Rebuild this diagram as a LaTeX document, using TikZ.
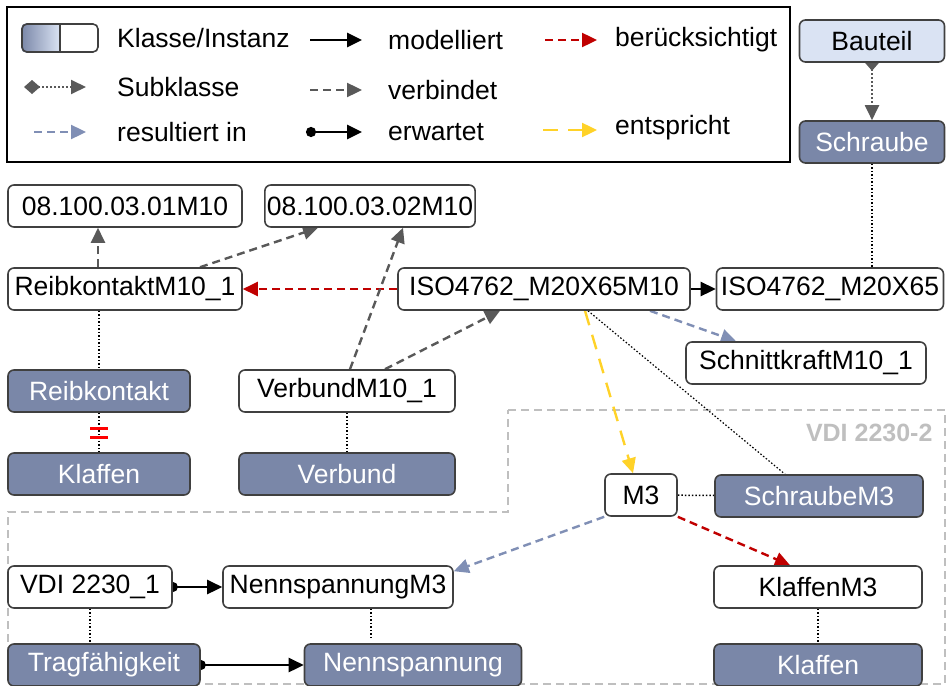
\documentclass[tikz,border=0pt]{standalone}
\usepackage{fontspec}
\setmainfont{Liberation Sans}
\usepackage{tikz}
\usepackage{xcolor}
\usetikzlibrary{arrows.meta, positioning, calc, backgrounds}
\definecolor{cClass}{RGB}{122,135,168}
\definecolor{cLight}{RGB}{218,227,243}
\definecolor{cBorder}{RGB}{64,64,64}
\definecolor{cGrayArr}{RGB}{89,89,89}
\definecolor{cResult}{RGB}{128,143,181}
\definecolor{cRed}{RGB}{192,0,0}
\definecolor{cYellow}{RGB}{255,210,40}
\definecolor{cRegion}{RGB}{191,191,191}
\tikzset{
	inst/.style   ={rectangle, rounded corners=6pt, draw=cBorder, line width=1.6pt, fill=white, minimum height=42pt, inner sep=2pt, align=center},
	cls/.style    ={inst, fill=cClass, text=white},
	lgtext/.style ={anchor=west, inner sep=0pt},
	% connector styles
	modell/.style ={-{Triangle[length=15pt, width=14pt]}, line width=2.6pt, black},
	erwart/.style ={{Circle[length=10pt]}-{Triangle[length=15pt, width=14pt]}, line width=2.6pt, black, shorten <=-5pt},
	verb/.style   ={-{Triangle[length=15pt, width=14pt]}, line width=2.4pt, dash pattern=on 8pt off 5pt, cGrayArr},
	result/.style ={verb, cResult},
	beruck/.style ={verb, cRed},
	entspr/.style ={-{Triangle[length=15pt, width=14pt]}, line width=2.4pt, dash pattern=on 15pt off 10pt, cYellow},
	subkl/.style  ={{Diamond[length=16pt, width=14pt]}-{Triangle[length=15pt, width=14pt]}, line width=2pt, dotted, cGrayArr, shorten <=-8pt},
	dotline/.style={line width=1.5pt, dotted, black},
	region/.style ={line width=2pt, dash pattern=on 8pt off 5pt, cRegion},
}

\begin{document}
\begin{tikzpicture}[x=1pt, y=-1pt, font=\fontsize{26.5}{30}\selectfont]
	\useasboundingbox (0,0) rectangle (947,685);

	% legend
	\draw[line width=2pt] (7,7) rectangle (790,162);
	\node[inst, minimum width=76pt, minimum height=28pt, rounded corners=5pt, fill=none] (licon) at (60,38) {};
	\node[lgtext] (lkl) at (117,38) {Klasse/Instanz};
	\node[lgtext] (lsub) at (117,87) {Subklasse};
	\node[lgtext] (lres) at (117,132) {resultiert in};
	\node[lgtext] (lmod) at (388,40) {modelliert};
	\node[lgtext] (lver) at (388,90) {verbindet};
	\node[lgtext] (lerw) at (388,132) {erwartet};
	\node[lgtext] (lber) at (615,40) {berücksichtigt};
	\node[lgtext] (lent) at (615,128) {entspricht};
	\coordinate (lsubA) at (24,87);  \coordinate (lsubB) at (86,87);
	\coordinate (lresA) at (34,132); \coordinate (lresB) at (86,132);
	\coordinate (lmodA) at (310,40); \coordinate (lmodB) at (362,40);
	\coordinate (lverA) at (310,90); \coordinate (lverB) at (362,90);
	\coordinate (lerwA) at (306,132); \coordinate (lerwB) at (362,132);
	\coordinate (lberA) at (545,40); \coordinate (lberB) at (597,40);
	\coordinate (lentA) at (543,130); \coordinate (lentB) at (597,130);

	% nodes
	\node[inst, fill=cLight, minimum width=145pt] (bauteil) at (872,41) {Bauteil};
	\node[cls, minimum width=145pt] (schraube) at (872,142) {Schraube};
	\node[inst, minimum width=234pt] (n0801) at (125,206) {08.100.03.01M10};
	\node[inst, minimum width=210pt] (n0802) at (370,206) {08.100.03.02M10};
	\node[inst, minimum width=234pt] (rkM10) at (125,289) {ReibkontaktM10\_1};
	\node[inst, minimum width=292pt] (isoM10) at (544,289) {ISO4762\_M20X65M10};
	\node[inst, minimum width=227pt] (iso) at (830,289) {ISO4762\_M20X65};
	\node[inst, minimum width=240pt] (schnitt) at (806,363) {SchnittkraftM10\_1};
	\node[cls, minimum width=182pt] (rk) at (99,391) {Reibkontakt};
	\node[inst, minimum width=216pt] (verbM10) at (347,391) {VerbundM10\_1};
	\node[cls, minimum width=182pt] (klaffen) at (99,474) {Klaffen};
	\node[cls, minimum width=216pt] (verbund) at (347,474) {Verbund};
	\node[inst, minimum width=72pt] (m3) at (641,495) {M3};
	\node[cls, minimum width=208pt] (schrM3) at (819,496) {SchraubeM3};
	\node[inst, minimum width=164pt] (vdi1) at (90,587) {VDI 2230\_1};
	\node[inst, minimum width=230pt] (nennM3) at (338,587) {NennspannungM3};
	\node[inst, minimum width=208pt] (klaffM3) at (818,587) {KlaffenM3};
	\node[cls, minimum width=192pt] (trag) at (104,665) {Tragfähigkeit};
	\node[cls, minimum width=217pt] (nenn) at (413,665) {Nennspannung};
	\node[cls, minimum width=208pt] (klaff) at (818,665) {Klaffen};
	\node[anchor=east, text=cRegion, font=\fontsize{25}{29}\selectfont\bfseries] (vdi2) at (936,433) {VDI 2230-2};

	\begin{scope}[on background layer]
		% region
		\draw[region] (508,410) -- (945,410) -- (945,684) -- (8,684) -- (8,512) -- (508,512) -- cycle;
		% legend icon
		\shade[left color=cClass, right color=cLight] (licon.south) [rounded corners=5pt] -- (licon.south west) -- (licon.north west) -- (licon.north) [sharp corners] -- cycle;
		\draw[cBorder, line width=1.6pt] (licon.north) -- (licon.south);
		% legend samples
		\draw[subkl, shorten <=0pt] (lsubA) -- (lsubB);
		\draw[result] (lresA) -- (lresB);
		\draw[modell] (lmodA) -- (lmodB);
		\draw[verb] (lverA) -- (lverB);
		\draw[erwart, shorten <=0pt] (lerwA) -- (lerwB);
		\draw[beruck] (lberA) -- (lberB);
		\draw[entspr] (lentA) -- (lentB);

		% connectors
		\draw[subkl] (bauteil) -- (schraube);
		\draw[dotline] (schraube.south) -- ([xshift=42pt]iso.north);
		\draw[verb] ([xshift=-27pt]rkM10.north) -- ([xshift=-27pt]n0801.south);
		\draw[verb] ([xshift=75pt]rkM10.north) -- ([xshift=-52pt]n0802.south);
		\draw[beruck] (isoM10.west) -- (rkM10.east);
		\draw[verb] ([xshift=3pt]verbM10.north) -- ([xshift=33pt]n0802.south);
		\draw[verb] ([xshift=38pt]verbM10.north) -- ([xshift=-44pt]isoM10.south);
		\draw[modell] (isoM10) -- (iso);
		\draw[result] ([xshift=106pt]isoM10.south) -- ([xshift=-70pt]schnitt.north);
		\draw[entspr] ([xshift=41pt]isoM10.south) -- ([xshift=-8pt]m3.north);
		\draw[dotline, line width=1.2pt] ([xshift=44pt]isoM10.south) -- ([xshift=-34pt]schrM3.north);
		\draw[dotline] (m3) -- (schrM3);
		\draw[result] (m3.south west) -- ([yshift=-6pt]nennM3.north east);
		\draw[beruck] (m3.south east) -- ([xshift=-28pt]klaffM3.north);
		\draw[erwart] (vdi1) -- (nennM3);
		\draw[erwart] (trag) -- (nenn);
		\draw[dotline] ([xshift=-26pt]rkM10.south) -- (rk.north);
		\draw[dotline] (rk) -- coordinate[midway] (neq) (klaffen);
		\draw[dotline] (verbM10) -- (verbund);
		\draw[dotline] (vdi1.south) -- ([xshift=-14pt]trag.north);
		\draw[dotline] ([xshift=33pt]nennM3.south) -- ([xshift=-42pt,yshift=5pt]nenn.north);
		\draw[dotline] (klaffM3) -- (klaff);
	\end{scope}
	% not equal mark
	\draw[red, line width=3pt] ([xshift=-9pt,yshift=4.5pt]neq) -- ([xshift=9pt,yshift=4.5pt]neq);
	\draw[red, line width=3pt] ([xshift=-9pt,yshift=-4.5pt]neq) -- ([xshift=9pt,yshift=-4.5pt]neq);
\end{tikzpicture}
\end{document}
